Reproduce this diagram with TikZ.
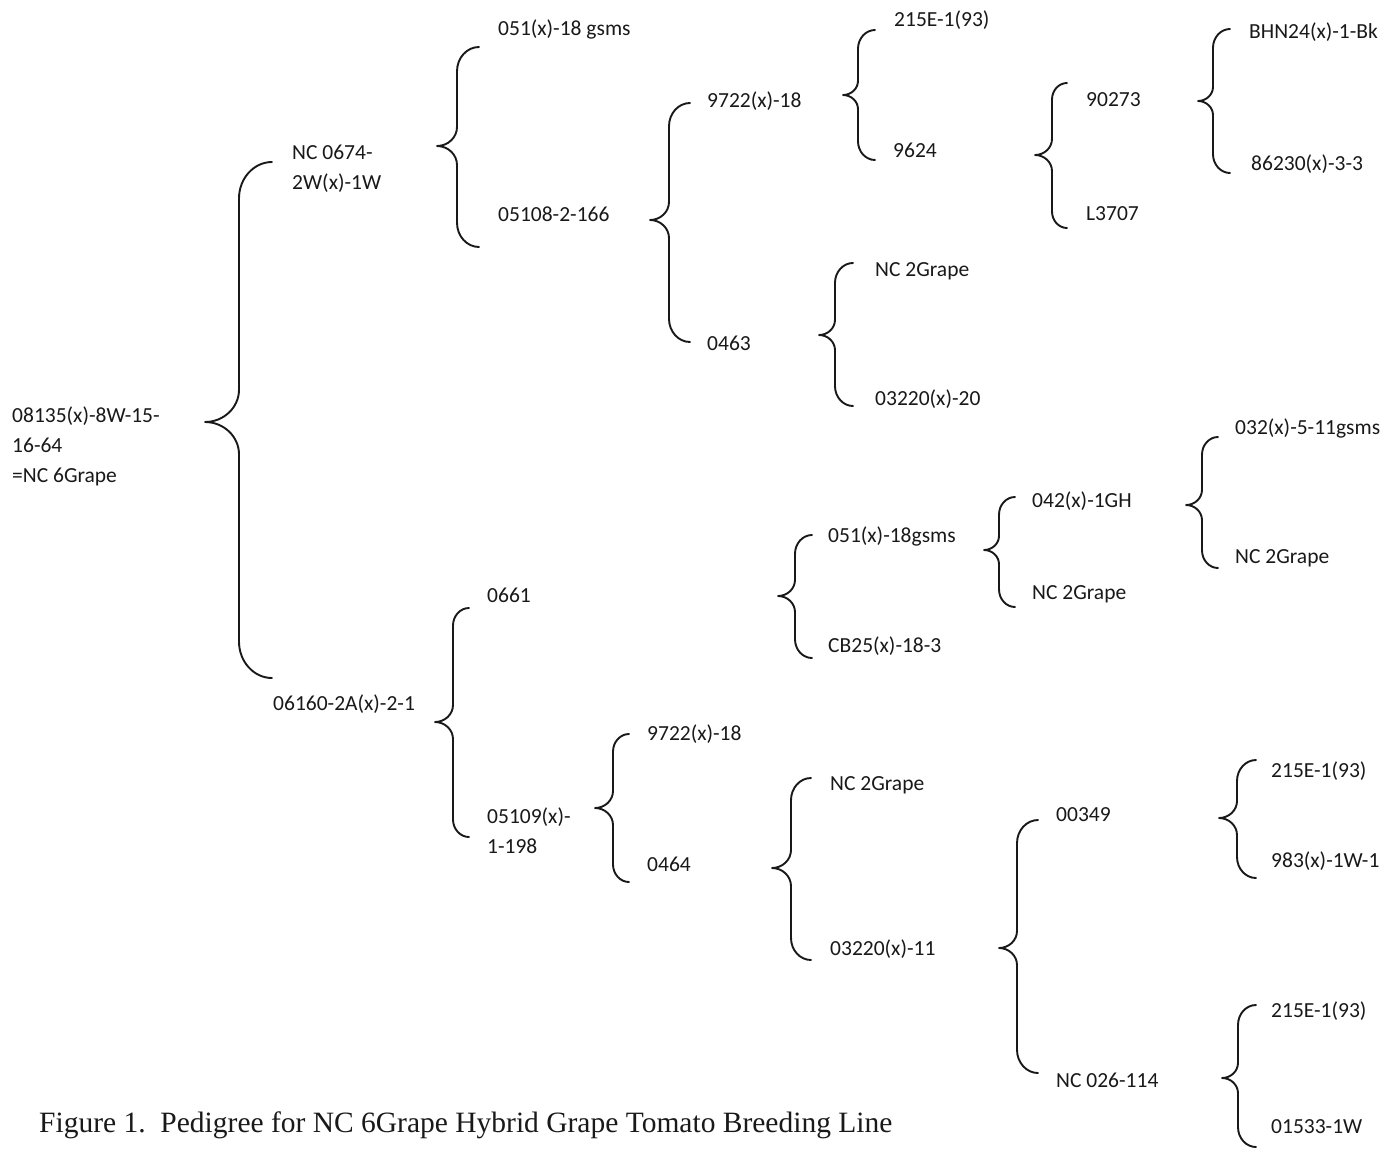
\documentclass[tikz,border=0pt]{standalone}
\usepackage{fontspec}
\setmainfont{Carlito}
\newfontfamily\capfont{Liberation Serif}
\newcommand\pedbrace[6]{% xe xv xt ytop ytip ybot
  \pgfmathsetmacro\pbA{#1-#2}%
  \pgfmathsetmacro\pbB{#2-#3}%
  \pgfmathsetmacro\pbH{1.1*\pbA}%
  \pgfmathsetmacro\pbK{0.95*\pbB}%
  \draw[brc] (#1,#4) .. controls ({#1-0.55*\pbA},#4) and (#2,{#4+0.45*\pbH}) .. (#2,{#4+\pbH})
    -- (#2,{#5-\pbK}) .. controls (#2,{#5-0.45*\pbK}) and ({#3+0.55*\pbB},#5) .. (#3,#5)
    .. controls ({#3+0.55*\pbB},#5) and (#2,{#5+0.45*\pbK}) .. (#2,{#5+\pbK})
    -- (#2,{#6-\pbH}) .. controls (#2,{#6-0.45*\pbH}) and ({#1-0.55*\pbA},#6) .. (#1,#6);
}
\tikzset{
  lab/.style={anchor=base west, inner sep=0pt, text=black!90, font=\fontsize{21.5}{26}\selectfont},
  brc/.style={line width=1.9pt, line cap=round, line join=round, black!90},
  captext/.style={anchor=base west, inner sep=0pt, text=black!90, font=\capfont\fontsize{29.5}{34}\selectfont}
}
\begin{document}
\begin{tikzpicture}[x=1pt,y=-1pt]
\useasboundingbox[fill=white] (0,0) rectangle (1396,1149);
% labels: (ink-left x, centre y + 7)
\node[lab] (r1) at (12,422) {08135(x)-8W-15-};
\node[lab] (r2) at (12,452) {16-64};
\node[lab] (r3) at (12,482) {=NC 6Grape};
\node[lab] (a1) at (292,159) {NC 0674-};
\node[lab] (a2) at (292,189) {2W(x)-1W};
\node[lab] (b)  at (273,710) {06160-2A(x)-2-1};
\node[lab] (a11) at (498,35) {051(x)-18 gsms};
\node[lab] (a12) at (498,221) {05108-2-166};
\node[lab] (b1) at (487,602) {0661};
\node[lab] (b2a) at (487,823) {05109(x)-};
\node[lab] (b2b) at (487,853) {1-198};
\node[lab] (c1) at (707,107) {9722(x)-18};
\node[lab] (c2) at (707,350) {0463};
\node[lab] (d1) at (647,740) {9722(x)-18};
\node[lab] (d2) at (647,871) {0464};
\node[lab] (e1) at (894,26) {215E-1(93)};
\node[lab] (e2) at (893,157) {9624};
\node[lab] (f1) at (875,276) {NC 2Grape};
\node[lab] (f2) at (875,405) {03220(x)-20};
\node[lab] (g1) at (828,542) {051(x)-18gsms};
\node[lab] (g2) at (828,652) {CB25(x)-18-3};
\node[lab] (h1) at (830,790) {NC 2Grape};
\node[lab] (h2) at (830,955) {03220(x)-11};
\node[lab] (i1) at (1086,106) {90273};
\node[lab] (i2) at (1086,220) {L3707};
\node[lab] (j1) at (1032,507) {042(x)-1GH};
\node[lab] (j2) at (1032,599) {NC 2Grape};
\node[lab] (k1) at (1056,821) {00349};
\node[lab] (k2) at (1056,1087) {NC 026-114};
\node[lab] (l1) at (1249,38) {BHN24(x)-1-Bk};
\node[lab] (l2) at (1251,170) {86230(x)-3-3};
\node[lab] (m1) at (1235,434) {032(x)-5-11gsms};
\node[lab] (m2) at (1235,563) {NC 2Grape};
\node[lab] (n1) at (1271,777) {215E-1(93)};
\node[lab] (n2) at (1271,867) {983(x)-1W-1};
\node[lab] (o1) at (1271,1017) {215E-1(93)};
\node[lab] (o2) at (1271,1133) {01533-1W};
\node[captext] (caption) at (39,1132) {Figure 1.\ \ Pedigree for NC 6Grape Hybrid Grape Tomato Breeding Line};
% braces: xe xv xt ytop ytip ybot
\pedbrace{272}{239}{205}{162}{422}{678}
\pedbrace{479}{457}{437}{47}{146}{247}
\pedbrace{690}{669}{650}{103}{220}{342}
\pedbrace{875}{858}{843}{30}{95}{160}
\pedbrace{1067}{1052}{1035}{83}{155}{228}
\pedbrace{1230}{1213}{1198}{29}{101}{173}
\pedbrace{853}{835}{819}{263}{335}{406}
\pedbrace{469}{453}{435}{608}{722}{837}
\pedbrace{812}{795}{778}{535}{596}{658}
\pedbrace{1015}{999}{984}{497}{550}{607}
\pedbrace{1218}{1202}{1186}{437}{505}{568}
\pedbrace{629}{613}{595}{734}{808}{882}
\pedbrace{811}{791}{772}{778}{868}{960}
\pedbrace{1038}{1017}{999}{820}{948}{1073}
\pedbrace{1256}{1237}{1219}{760}{818}{878}
\pedbrace{1256}{1238}{1222}{1005}{1078}{1147}
\end{tikzpicture}
\end{document}
